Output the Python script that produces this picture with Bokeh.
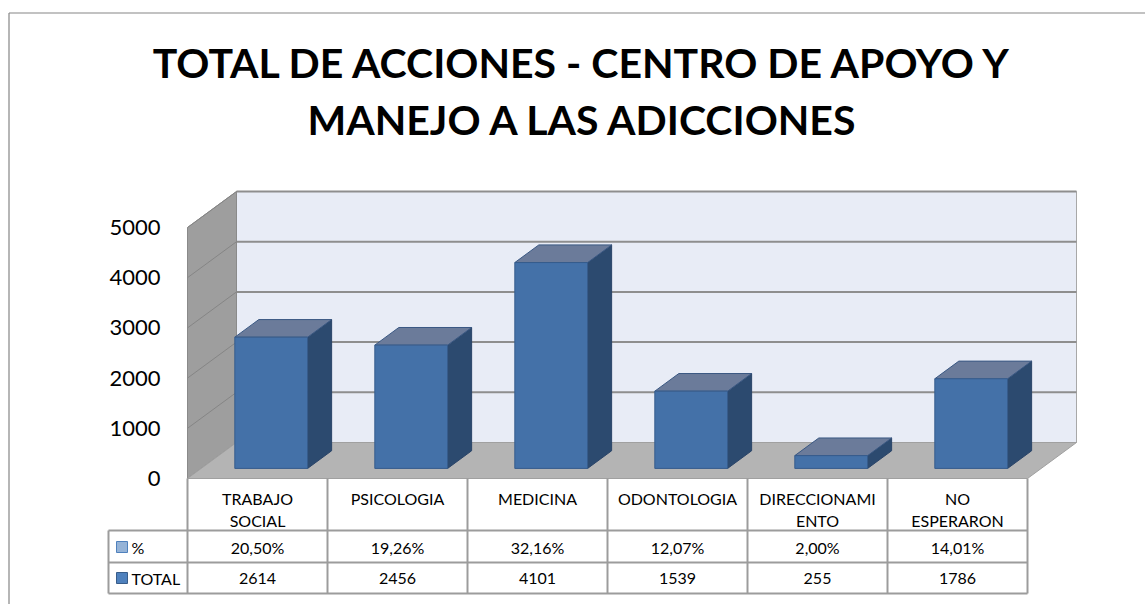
from bokeh.plotting import figure
from bokeh.models import Range1d
from bokeh.core.properties import value
from bokeh.embed import file_html
from bokeh.resources import INLINE

# ---------------- data ----------------
categories = ["TRABAJO\nSOCIAL", "PSICOLOGIA", "MEDICINA", "ODONTOLOGIA", "DIRECCIONAMI\nENTO", "NO\nESPERARON"]
totals = [2614, 2456, 4101, 1539, 255, 1786]
percents = [20.50, 19.26, 32.16, 12.07, 2.00, 14.01]
y_ticks = [0, 1000, 2000, 3000, 4000, 5000]
series_names = ["%", "TOTAL"]
title_lines = ["TOTAL DE ACCIONES - CENTRO DE APOYO Y", "MANEJO A LAS ADICCIONES"]

# ---------------- layout ----------------
W, H = 1145, 604
COL0 = 187.0          # px of first category column left edge
COLW = 140.0          # px per category
ZERO_Y = 478.0        # px (from top) of value 0 on front plane
PXV = 251.0 / 5000.0  # px per value unit
N = len(categories)
VMAX = y_ticks[-1]

def X(fx):
    return (fx - COL0) / COLW

def Y(fy):
    return (ZERO_Y - fy) / PXV

DX = 49.0 / COLW      # depth offset in x units
DY = 36.0 / PXV       # depth offset in value units
BW = 0.52             # bar width (category units)
D0, D1 = 0.28, 0.77   # bar depth span

def proj(x, v, d):
    return x + d * DX, v + d * DY

def quad(pts):
    xs, ys = zip(*[proj(*p) for p in pts])
    return list(xs), list(ys)

p = figure(width=W, height=H, x_range=Range1d(X(0), X(W)), y_range=Range1d(Y(H), Y(0)),
           toolbar_location=None, output_backend="svg", min_border=0,
           x_axis_location=None, y_axis_location=None)
p.grid.visible = False
p.outline_line_color = None
p.background_fill_color = "white"
p.border_fill_color = "white"

FONT = value("Lato")

# outer chart border
p.segment(x0=[X(8.5), X(8.5)], y0=[Y(12.5), Y(12.5)], x1=[X(8.5), X(W)], y1=[Y(H), Y(12.5)],
          line_color="#858585", line_width=1.2)

# ---------------- walls ----------------
bx, by = quad([(0, 0, 1), (N, 0, 1), (N, VMAX, 1), (0, VMAX, 1)])
p.patch(bx, by, fill_color="#E8ECF6", line_color="#A8A8A8", line_width=1)

sx, sy = quad([(0, 0, 0), (0, 0, 1), (0, VMAX, 1), (0, VMAX, 0)])
p.patch(sx, sy, fill_color="#9E9E9E", line_color="#8A8A8A", line_width=1)

# gridlines (back wall + side wall)
gx0, gy0, gx1, gy1 = [], [], [], []
hx0, hy0, hx1, hy1 = [], [], [], []
for t in y_ticks[1:]:
    a = proj(0, t, 1); b = proj(N, t, 1)
    gx0.append(a[0]); gy0.append(a[1]); gx1.append(b[0]); gy1.append(b[1])
    c = proj(0, t, 0)
    hx0.append(c[0]); hy0.append(c[1]); hx1.append(a[0]); hy1.append(a[1])
p.segment(gx0, gy0, gx1, gy1, line_color="#8E8E8E", line_width=2)
p.segment(hx0, hy0, hx1, hy1, line_color="#858585", line_width=1)

fx, fy = quad([(0, 0, 0), (N, 0, 0), (N, 0, 1), (0, 0, 1)])
p.patch(fx, fy, fill_color="#B4B4B4", line_color="#A0A0A0", line_width=1)

# ---------------- bars ----------------
front_xs, front_ys, top_xs, top_ys, side_xs, side_ys = [], [], [], [], [], []
for i, v in enumerate(totals):
    xl = i + 0.5 - BW / 2
    xr = i + 0.5 + BW / 2
    a, b = quad([(xr, 0, D0), (xr, 0, D1), (xr, v, D1), (xr, v, D0)])
    side_xs.append(a); side_ys.append(b)
    a, b = quad([(xl, v, D0), (xr, v, D0), (xr, v, D1), (xl, v, D1)])
    top_xs.append(a); top_ys.append(b)
    a, b = quad([(xl, 0, D0), (xr, 0, D0), (xr, v, D0), (xl, v, D0)])
    front_xs.append(a); front_ys.append(b)

p.patches(side_xs, side_ys, fill_color="#2C4A6F", line_color="#2A4468", line_width=1)
p.patches(top_xs, top_ys, fill_color="#6B7B9A", line_color="#3A5883", line_width=1)
p.patches(front_xs, front_ys, fill_color="#4471A8", line_color="#365C8C", line_width=1)

# ---------------- y tick labels ----------------
p.text(x=[X(160)] * len(y_ticks), y=y_ticks, text=[str(t) for t in y_ticks],
       text_font=FONT, text_font_size="22px", text_align="right", text_baseline="middle",
       text_color="#000000")

# ---------------- title ----------------
p.text(x=[X(583)] * 2, y=[Y(61.5), Y(119)], text=title_lines,
       text_font=FONT, text_font_style="bold", text_font_size="41px",
       text_align="center", text_baseline="middle", text_color="#000000")

# ---------------- data table ----------------
ROW_TOP, ROW_H1, ROW_H2, ROW_H3 = 478, 530, 562, 593
LEFT = 108
TC = "#9C9C9C"
vx0 = list(range(N + 1)) + [X(LEFT)]
vy0 = [Y(ROW_TOP)] * (N + 1) + [Y(ROW_H1)]
vy1 = [Y(ROW_H3)] * (N + 2)
p.segment(x0=vx0, y0=vy0, x1=vx0, y1=vy1, line_color=TC, line_width=2)
hy = [Y(ROW_H1), Y(ROW_H2), Y(ROW_H3)]
p.segment(x0=[X(LEFT)] * 3, y0=hy, x1=[N] * 3, y1=hy, line_color=TC, line_width=2)

centers = [i + 0.5 for i in range(N)]
line1 = [c.split("\n")[0] for c in categories]
line2 = [c.split("\n")[1] if "\n" in c else "" for c in categories]
TFS = "16px"
p.text(x=centers, y=[Y(498)] * N, text=line1, text_font=FONT, text_font_size=TFS,
       text_align="center", text_baseline="middle", text_color="#000000")
p.text(x=centers, y=[Y(520)] * N, text=line2, text_font=FONT, text_font_size=TFS,
       text_align="center", text_baseline="middle", text_color="#000000")
pct_text = [("%.2f" % v).replace(".", ",") + "%" for v in percents]
p.text(x=centers, y=[Y(547)] * N, text=pct_text, text_font=FONT, text_font_size=TFS,
       text_align="center", text_baseline="middle", text_color="#000000")
p.text(x=centers, y=[Y(578)] * N, text=[str(v) for v in totals], text_font=FONT,
       text_font_size=TFS, text_align="center", text_baseline="middle", text_color="#000000")

# legend keys
p.scatter(x=[X(121.5)] * 2, y=[Y(546.5), Y(577.5)], marker="square", size=11,
          fill_color=["#95B3D7", "#4F81BD"], line_color=["#4F81BD", "#385D8A"], line_width=1)
p.text(x=[X(131)] * 2, y=[Y(547), Y(578)], text=series_names, text_font=FONT,
       text_font_size=TFS, text_align="left", text_baseline="middle", text_color="#000000")

open("out.html", "w").write(file_html(p, INLINE))
